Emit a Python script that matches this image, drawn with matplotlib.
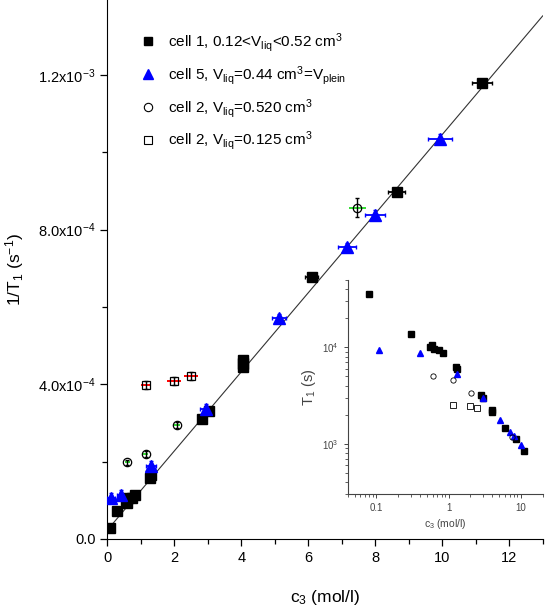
import numpy as np
import matplotlib
matplotlib.use('Agg')
import matplotlib.pyplot as plt
from matplotlib.lines import Line2D
from matplotlib.ticker import MultipleLocator, FixedLocator, FixedFormatter, NullFormatter, LogLocator

plt.rcParams['font.family'] = ['Liberation Sans', 'DejaVu Sans']
plt.rcParams['mathtext.fontset'] = 'custom'
plt.rcParams['mathtext.rm'] = 'Liberation Sans'
plt.rcParams['mathtext.it'] = 'Liberation Sans:italic'

# cell 1, 0.12 < V_liq < 0.52 cm3
c_cell1 = [0.08, 0.30, 0.56, 0.59, 0.62, 0.74, 0.84, 1.27, 1.30, 2.82, 3.04, 4.05, 4.05, 6.10, 8.64, 11.18]
r_cell1 = [2.8e-5, 7.2e-5, 1.00e-4, 9.4e-5, 1.05e-4, 1.07e-4, 1.13e-4, 1.58e-4, 1.66e-4,
           3.10e-4, 3.31e-4, 4.46e-4, 4.62e-4, 6.78e-4, 8.98e-4, 1.179e-3]
xe_cell1 = [0.05, 0.05, 0.05, 0.05, 0.05, 0.05, 0.05, 0.08, 0.08, 0.12, 0.12, 0.15, 0.15, 0.2, 0.25, 0.3]

# cell 5, V_liq = 0.44 cm3 = V_plein
c_cell5 = [0.11, 0.40, 1.30, 2.95, 5.13, 7.16, 7.99, 9.93]
r_cell5 = [1.07e-4, 1.14e-4, 1.89e-4, 3.36e-4, 5.71e-4, 7.54e-4, 8.38e-4, 1.035e-3]
xe_cell5 = [0.12, 0.12, 0.15, 0.18, 0.22, 0.27, 0.3, 0.35]
ye_cell5 = [1.2e-5, 1.2e-5, 1.2e-5, 1.2e-5, 1.2e-5, 1.2e-5, 1.2e-5, 1.2e-5]

# cell 2, V_liq = 0.520 cm3
c_cell2a = [0.60, 1.15, 2.07, 7.47]
r_cell2a = [1.98e-4, 2.20e-4, 2.95e-4, 8.57e-4]
xe_cell2a = [0.08, 0.08, 0.1, 0.25]
ye_cell2a = [7e-6, 7e-6, 8e-6, 2.5e-5]

# cell 2, V_liq = 0.125 cm3
c_cell2b = [1.15, 1.99, 2.50]
r_cell2b = [3.98e-4, 4.09e-4, 4.22e-4]
xe_cell2b = [0.15, 0.2, 0.2]
ye_cell2b = [1e-5, 1e-5, 1e-5]

# linear fit
fit_a = 2.3e-5
fit_b = 1.023e-4

fig = plt.figure(figsize=(5.56, 6.06), dpi=100)
ax = fig.add_axes([107.3/556, 1-539/606, (542.7-107.3)/556, 539/606])

cf = np.array([0.08, 13.0])
ax.plot(cf, fit_a + fit_b*cf, color='#333333', lw=0.8, zorder=1)

ax.errorbar(c_cell1, r_cell1, xerr=xe_cell1, fmt='s', color='black', ms=7.3, elinewidth=1.3, capsize=1.5, zorder=3)
ax.errorbar(c_cell5, r_cell5, xerr=xe_cell5, yerr=ye_cell5, fmt='^', color='blue', ms=8, elinewidth=1.3, capsize=1.5, zorder=3)

ax.errorbar(c_cell2a, r_cell2a, xerr=xe_cell2a, fmt='none', ecolor='#33dd33', elinewidth=1.4, capsize=0, zorder=3)
ax.errorbar(c_cell2a, r_cell2a, yerr=ye_cell2a, fmt='none', ecolor='black', elinewidth=1.0, capsize=1.5, zorder=3)
ax.plot(c_cell2a, r_cell2a, 'o', mfc='none', mec='black', ms=6, mew=0.9, zorder=4)

ax.errorbar(c_cell2b, r_cell2b, xerr=xe_cell2b, fmt='none', ecolor='red', elinewidth=1.4, capsize=0, zorder=3)
ax.errorbar(c_cell2b, r_cell2b, yerr=ye_cell2b, fmt='none', ecolor='black', elinewidth=1.0, capsize=1.5, zorder=3)
ax.plot(c_cell2b, r_cell2b, 's', mfc='none', mec='black', ms=6, mew=0.9, zorder=4)

ax.set_xlim(0, 13)
ax.set_ylim(0, 1.394e-3)
ax.spines['top'].set_visible(False)
ax.spines['right'].set_visible(False)
ax.xaxis.set_major_locator(MultipleLocator(2))
ax.xaxis.set_minor_locator(MultipleLocator(1))
ax.yaxis.set_major_locator(FixedLocator([0, 4e-4, 8e-4, 1.2e-3]))
ax.yaxis.set_major_formatter(FixedFormatter(['0.0', '4.0x10$^{-4}$', '8.0x10$^{-4}$', '1.2x10$^{-3}$']))
ax.yaxis.set_minor_locator(MultipleLocator(2e-4))
ax.tick_params(which='major', direction='out', length=5, width=0.9, labelsize=10.5)
ax.tick_params(which='minor', direction='out', length=3.5, width=0.9)
ax.set_xlabel('c$_3$ (mol/l)', fontsize=12.5, labelpad=17)
ax.set_ylabel('1/T$_1$ (s$^{-1}$)', fontsize=12.5, labelpad=9)

handles = [Line2D([], [], ls='none', marker='s', color='black', ms=6),
           Line2D([], [], ls='none', marker='^', color='blue', ms=7),
           Line2D([], [], ls='none', marker='o', mfc='none', mec='black', ms=6, mew=0.8),
           Line2D([], [], ls='none', marker='s', mfc='none', mec='black', ms=6, mew=0.8)]
labels = ['cell 1, 0.12<V$_{\\mathrm{liq}}$<0.52 cm$^3$',
          'cell 5, V$_{\\mathrm{liq}}$=0.44 cm$^3$=V$_{\\mathrm{plein}}$',
          'cell 2, V$_{\\mathrm{liq}}$=0.520 cm$^3$',
          'cell 2, V$_{\\mathrm{liq}}$=0.125 cm$^3$']
ax.legend(handles, labels, loc='upper left', bbox_to_anchor=(0.045, 0.968), frameon=False,
          fontsize=11, labelspacing=0.65, handletextpad=0.8, handlelength=1.0)

# inset: T1 versus c3 on log scales
ins = fig.add_axes([347.7/556, 1-494.3/606, (542.5-347.7)/556, (494.3-280)/606])
gray = '#444444'
ins.plot(c_cell1, 1/np.array(r_cell1), 's', color='black', ms=3.8)
ins.plot(c_cell5, 1/np.array(r_cell5), '^', color='blue', ms=4.3)
ins.plot(c_cell2a, 1/np.array(r_cell2a), 'o', mfc='none', mec='black', ms=3.8, mew=0.6)
ins.plot(c_cell2b, 1/np.array(r_cell2b), 's', mfc='none', mec='black', ms=3.8, mew=0.6)
ins.set_xscale('log')
ins.set_yscale('log')
ins.set_xlim(0.04, 20)
ins.set_ylim(300, 5e4)
ins.spines['top'].set_visible(False)
ins.spines['right'].set_visible(False)
for s in ['left', 'bottom']:
    ins.spines[s].set_color(gray)
    ins.spines[s].set_linewidth(0.8)
ins.set_xticks([0.1, 1, 10])
ins.set_xticklabels(['0.1', '1', '10'])
ins.xaxis.set_minor_locator(LogLocator(subs=np.arange(2, 10)))
ins.xaxis.set_minor_formatter(NullFormatter())
ins.yaxis.set_minor_formatter(NullFormatter())
ins.tick_params(which='major', direction='out', length=3, width=0.7, colors=gray, labelsize=7)
ins.tick_params(which='minor', direction='out', length=2, width=0.6, colors=gray)
ins.set_xlabel('c$_3$ (mol/l)', fontsize=7.5, color=gray, labelpad=3)
ins.set_ylabel('T$_1$ (s)', fontsize=10.5, color=gray, labelpad=3)

fig.savefig('out.png', dpi=100)
